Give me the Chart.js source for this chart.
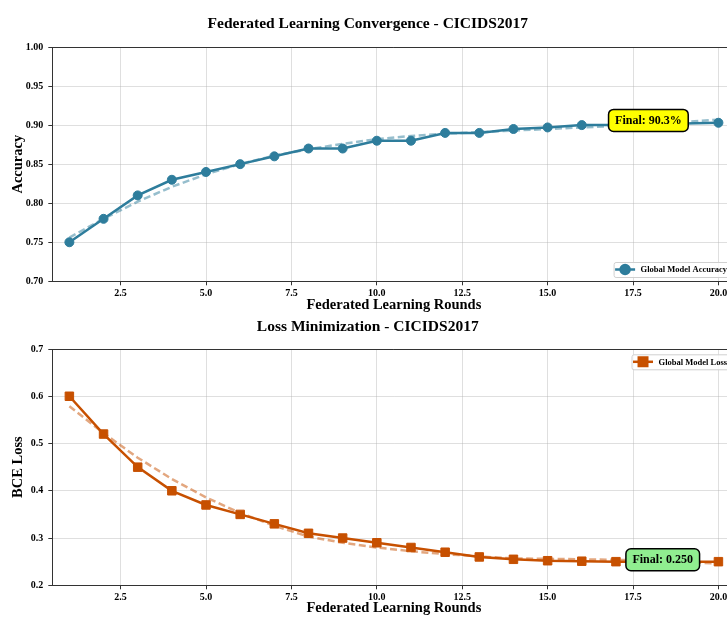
<!DOCTYPE html>
<html>
<head>
<meta charset="utf-8">
<script src="https://cdn.jsdelivr.net/npm/chart.js@4.4.0/dist/chart.umd.min.js"></script>
<style>
  html, body { margin: 0; padding: 0; background: #fff; }
  #fig { position: relative; width: 727px; height: 617px; overflow: hidden; background: #fff; }
  #fig canvas { position: absolute; left: 0; }
  #accChart { top: 0; }
  #lossChart { top: 314px; }
</style>
</head>
<body>
<div id="fig">
  <canvas id="accChart" width="745" height="314"></canvas>
  <canvas id="lossChart" width="745" height="303"></canvas>
</div>
<script>
// federated rounds 1..20
const rounds = [1,2,3,4,5,6,7,8,9,10,11,12,13,14,15,16,17,18,19,20];

// accuracy per round + the dashed trend line
const accuracy = [0.750,0.780,0.810,0.830,0.840,0.850,0.860,0.870,0.870,0.880,
                  0.880,0.890,0.890,0.895,0.897,0.900,0.900,0.901,0.902,0.903];
const accuracyTrend = [0.756,0.780,0.802,0.821,0.837,0.850,0.861,0.869,0.876,0.882,
                       0.886,0.889,0.891,0.893,0.895,0.897,0.899,0.901,0.904,0.907];

// loss per round + the dashed trend line
const loss = [0.600,0.520,0.450,0.400,0.370,0.350,0.330,0.310,0.300,0.290,
              0.280,0.270,0.260,0.255,0.252,0.251,0.250,0.250,0.250,0.250];
const lossTrend = [0.579,0.522,0.470,0.425,0.386,0.353,0.326,0.303,0.290,0.280,
                   0.272,0.266,0.261,0.257,0.256,0.255,0.254,0.252,0.249,0.246];

const roundTicks = [2.5,5.0,7.5,10.0,12.5,15.0,17.5,20.0];
const accTicks = [0.70,0.75,0.80,0.85,0.90,0.95,1.00];
const lossTicks = [0.2,0.3,0.4,0.5,0.6,0.7];

const BLUE = '#2E7D9C';
const ORANGE = '#C75000';
const SERIF = '"Liberation Serif", "Times New Roman", serif';

Chart.defaults.font.family = SERIF;
Chart.defaults.font.weight = 'bold';
Chart.defaults.color = '#000';

function pts(ys) { return rounds.map((r, i) => ({x: r, y: ys[i]})); }

// top spine (matplotlib box)
const spinePlugin = {
  id: 'spine',
  afterDraw(chart) {
    const {ctx, chartArea: a} = chart;
    ctx.save();
    ctx.strokeStyle = '#333';
    ctx.lineWidth = 1;
    ctx.beginPath();
    ctx.moveTo(a.left, a.top + 0.5);
    ctx.lineTo(a.right, a.top + 0.5);
    ctx.stroke();
    ctx.restore();
  }
};

// legend drawn inside the axes like matplotlib does
const boxLegend = {
  id: 'boxLegend',
  afterDatasetsDraw(chart, args, opts) {
    const {ctx, chartArea: a} = chart;
    const ds = chart.data.datasets[0];
    ctx.save();
    ctx.font = 'bold 8.5px ' + SERIF;
    const tw = ctx.measureText(ds.label).width;
    const w = 27 + tw + 4, h = 15;
    const x = a.right - 4.5 - w;
    const y = opts.where === 'top' ? a.top + 5.3 : a.bottom - 4.3 - h;
    ctx.fillStyle = 'rgba(255,255,255,0.85)';
    ctx.strokeStyle = '#d0d0d0';
    ctx.lineWidth = 1;
    ctx.beginPath();
    ctx.roundRect(x + 0.5, y + 0.5, w, h, 2);
    ctx.fill();
    ctx.stroke();
    const cy = y + h / 2;
    ctx.strokeStyle = ds.borderColor;
    ctx.lineWidth = ds.borderWidth;
    ctx.beginPath();
    ctx.moveTo(x + 1.5, cy);
    ctx.lineTo(x + 21.5, cy);
    ctx.stroke();
    Chart.helpers.drawPoint(ctx, {pointStyle: ds.pointStyle, radius: ds.pointRadius, borderWidth: 1}, x + 11.5, cy);
    ctx.fillStyle = ds.borderColor;
    ctx.fill();
    ctx.fillStyle = '#000';
    ctx.textBaseline = 'middle';
    ctx.fillText(ds.label, x + 27, cy + 0.5);
    ctx.restore();
  }
};

// "Final: ..." callout box
const finalBox = {
  id: 'finalBox',
  afterDatasetsDraw(chart, args, opts) {
    const {ctx, scales} = chart;
    const cx = scales.x.getPixelForValue(opts.x);
    const cy = scales.y.getPixelForValue(opts.y);
    ctx.save();
    ctx.font = 'bold 12px ' + SERIF;
    const tw = ctx.measureText(opts.text).width;
    const w = tw + 13, h = 22;
    ctx.fillStyle = opts.fill;
    ctx.strokeStyle = '#000';
    ctx.lineWidth = 1.5;
    ctx.beginPath();
    ctx.roundRect(cx - w / 2, cy - h / 2, w, h, 5);
    ctx.fill();
    ctx.stroke();
    ctx.fillStyle = '#000';
    ctx.textAlign = 'center';
    ctx.textBaseline = 'middle';
    ctx.fillText(opts.text, cx, cy + 0.5);
    ctx.restore();
  }
};

function makeChart(id, cfg) {
  return new Chart(document.getElementById(id), {
    type: 'line',
    data: {
      datasets: [{
        label: cfg.label,
        data: pts(cfg.values),
        borderColor: cfg.color,
        backgroundColor: cfg.color,
        borderWidth: 2.5,
        pointStyle: cfg.marker,
        pointRadius: cfg.marker === 'rect' ? 6 : 4.5,
        pointBorderWidth: 1,
        tension: 0
      }, {
        label: 'trend',
        data: pts(cfg.trend),
        borderColor: cfg.trendColor,
        borderWidth: 2.5,
        borderDash: [7, 3.5],
        pointRadius: 0,
        tension: 0
      }]
    },
    options: {
      responsive: false,
      animation: false,
      layout: { padding: { top: 0, left: 0, right: 9.5, bottom: 0 } },
      plugins: {
        legend: { display: false },
        tooltip: { enabled: false },
        title: {
          display: true,
          text: cfg.title,
          font: { size: 15.5, weight: 'bold' },
          padding: cfg.titlePad
        },
        boxLegend: { where: cfg.legendAt },
        finalBox: cfg.final
      },
      scales: {
        x: {
          type: 'linear',
          min: 0.5,
          max: 20.5,
          afterFit(s) { s.height = cfg.xHeight; },
          afterBuildTicks(s) { s.ticks = roundTicks.map(v => ({value: v})); },
          ticks: {
            padding: 2,
            font: { size: 10, weight: 'bold' },
            callback: v => v.toFixed(1)
          },
          grid: { color: 'rgba(176,176,176,0.4)', tickColor: '#333', tickLength: 4 },
          border: { color: '#333', width: 1 },
          title: {
            display: true,
            text: 'Federated Learning Rounds',
            font: { size: 14.5, weight: 'bold' },
            padding: 0
          }
        },
        y: {
          min: cfg.ticks[0],
          max: cfg.ticks[cfg.ticks.length - 1],
          afterFit(s) { s.width = 52.3; },
          afterBuildTicks(s) { s.ticks = cfg.ticks.map(v => ({value: v})); },
          ticks: {
            padding: 5,
            font: { size: 10, weight: 'bold' },
            callback: v => v.toFixed(cfg.digits)
          },
          grid: { color: 'rgba(176,176,176,0.4)', tickColor: '#333', tickLength: 4 },
          border: { color: '#333', width: 1 },
          title: {
            display: true,
            text: cfg.yTitle,
            font: { size: 14.5, weight: 'bold' },
            padding: { top: 9.3, bottom: 0 }
          }
        }
      }
    },
    plugins: [spinePlugin, boxLegend, finalBox]
  });
}

makeChart('accChart', {
  title: 'Federated Learning Convergence - CICIDS2017',
  titlePad: { top: 14.7, bottom: 13.7 },
  label: 'Global Model Accuracy',
  values: accuracy,
  trend: accuracyTrend,
  color: BLUE,
  trendColor: 'rgba(46,125,156,0.5)',
  marker: 'circle',
  ticks: accTicks,
  digits: 2,
  yTitle: 'Accuracy',
  xHeight: 32.7,
  legendAt: 'bottom',
  final: { x: 17.95, y: 0.906, text: 'Final: 90.3%', fill: '#FFFF00' }
});

makeChart('lossChart', {
  title: 'Loss Minimization - CICIDS2017',
  titlePad: { top: 3.7, bottom: 12.7 },
  label: 'Global Model Loss',
  values: loss,
  trend: lossTrend,
  color: ORANGE,
  trendColor: 'rgba(199,80,0,0.5)',
  marker: 'rect',
  ticks: lossTicks,
  digits: 1,
  yTitle: 'BCE Loss',
  xHeight: 31.7,
  legendAt: 'top',
  final: { x: 18.37, y: 0.254, text: 'Final: 0.250', fill: '#90EE90' }
});
</script>
</body>
</html>
